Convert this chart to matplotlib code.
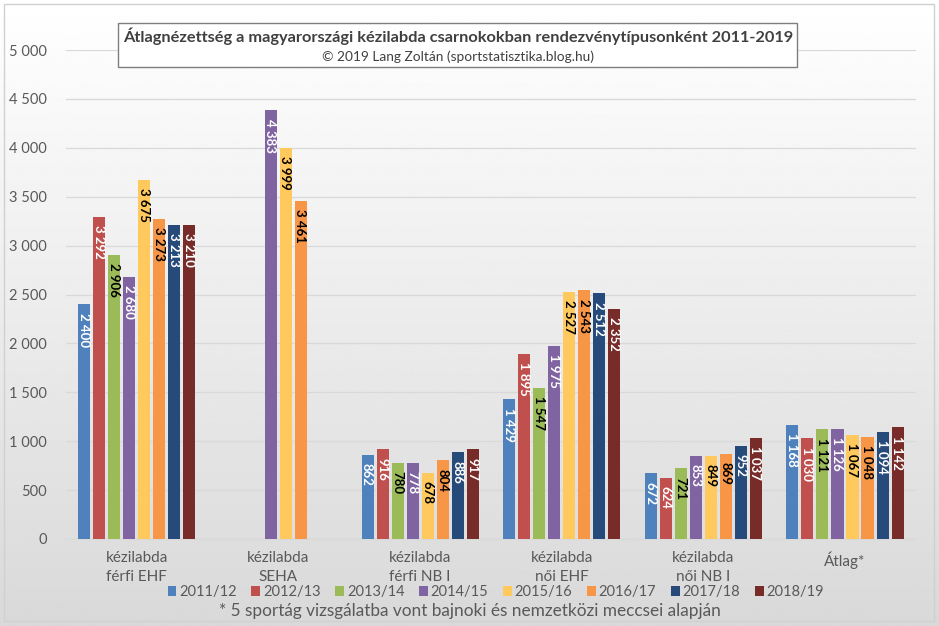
import matplotlib.pyplot as plt
import numpy as np
from matplotlib.patches import Rectangle

plt.rcParams['font.family'] = ['Lato', 'DejaVu Sans']

categories = ['kézilabda\nférfi EHF', 'kézilabda\nSEHA', 'kézilabda\nférfi NB I',
              'kézilabda\nnői EHF', 'kézilabda\nnői NB I', 'Átlag*']
seasons = ['2011/12', '2012/13', '2013/14', '2014/15',
           '2015/16', '2016/17', '2017/18', '2018/19']

# one list per season, one value per category (None = no data)
v_2011 = [2400, None, 862, 1429, 672, 1168]
v_2012 = [3292, None, 916, 1895, 624, 1030]
v_2013 = [2906, None, 780, 1547, 721, 1121]
v_2014 = [2680, 4383, 778, 1975, 853, 1126]
v_2015 = [3675, 3999, 678, 2527, 849, 1067]
v_2016 = [3273, 3461, 804, 2543, 869, 1048]
v_2017 = [3213, None, 886, 2512, 952, 1094]
v_2018 = [3210, None, 917, 2352, 1037, 1142]
values = [v_2011, v_2012, v_2013, v_2014, v_2015, v_2016, v_2017, v_2018]

colors = ['#4F81BD', '#C0504D', '#9BBB59', '#8064A2',
          '#FFC95E', '#F79646', '#264A79', '#772C2A']
label_colors = ['white', 'white', 'black', 'white',
                'black', 'black', 'white', 'white']

title = 'Átlagnézettség a magyarországi kézilabda csarnokokban rendezvénytípusonként 2011-2019'
subtitle = '© 2019 Lang Zoltán (sportstatisztika.blog.hu)'
footnote = '* 5 sportág vizsgálatba vont bajnoki és nemzetközi meccsei alapján'


def fmt(v):
    return f'{v:,}'.replace(',', ' ')


fig = plt.figure(figsize=(9.39, 6.26), dpi=100)

# background gradient
bg = fig.add_axes([0, 0, 1, 1], zorder=-10)
grad = np.linspace(1.0, 0.85, 256).reshape(-1, 1)
bg.imshow(grad, aspect='auto', cmap='gray', vmin=0, vmax=1, extent=[0, 1, 0, 1])
bg.add_patch(Rectangle((0.004, 0.008), 0.991, 0.985, fill=False,
                       edgecolor='#D0D0D0', linewidth=1.0, transform=bg.transAxes))
bg.set_axis_off()

ax = fig.add_axes([0.0703, 0.139, 0.905, 0.781])
ax.patch.set_alpha(0)

x = np.arange(len(categories))
step = 0.106
width = 0.085
for i, (season, vals) in enumerate(zip(seasons, values)):
    xs = [xx + (i - 3.5) * step for xx, v in zip(x, vals) if v is not None]
    hs = [v for v in vals if v is not None]
    bars = ax.bar(xs, hs, width, color=colors[i], label=season, zorder=3)
    for b, h in zip(bars, hs):
        ax.annotate(fmt(h), (b.get_x() + b.get_width() / 2, h),
                    xytext=(-0.4, -6), textcoords='offset points',
                    rotation=270, ha='center', va='top',
                    fontsize=9.5, fontweight='bold', color=label_colors[i], zorder=4)

ax.set_xlim(-0.5, len(categories) - 0.5)
ax.set_ylim(0, 5000)
ax.set_yticks(np.arange(0, 5001, 500))
ax.set_yticklabels([fmt(t) for t in range(0, 5001, 500)])
ax.set_xticks(x)
ax.set_xticklabels(categories, linespacing=1.45)
ax.tick_params(axis='y', length=0, pad=14, labelsize=10.5, labelcolor='#595959')
ax.tick_params(axis='x', length=0, pad=9, labelsize=11, labelcolor='#595959')
ax.grid(axis='y', color='#D9D9D9', linewidth=0.9, zorder=0)
for s in ['top', 'right', 'left']:
    ax.spines[s].set_visible(False)
ax.spines['bottom'].set_color('#D9D9D9')

fig.legend(loc='center', bbox_to_anchor=(0.528, 0.054), ncol=8, frameon=False,
           fontsize=10.5, handlelength=0.6, handleheight=0.6, handletextpad=0.2,
           columnspacing=1.0, labelcolor='#595959')

fig.text(0.5, 0.024, footnote, ha='center', va='center', fontsize=12.4, color='#595959')

# title box
fig.patches.append(Rectangle((118 / 939, 1 - 67 / 626), (797 - 118) / 939, 44 / 626,
                             transform=fig.transFigure, facecolor='white',
                             edgecolor='#7F7F7F', linewidth=1.0, zorder=5))
fig.text(458 / 939, 1 - 36 / 626, title, ha='center', va='center',
         fontsize=11.8, fontweight='bold', color='#404040', zorder=6)
fig.text(458 / 939, 1 - 57 / 626, subtitle, ha='center', va='center',
         fontsize=9.9, color='#404040', zorder=6)

fig.savefig('out.png', dpi=100)
